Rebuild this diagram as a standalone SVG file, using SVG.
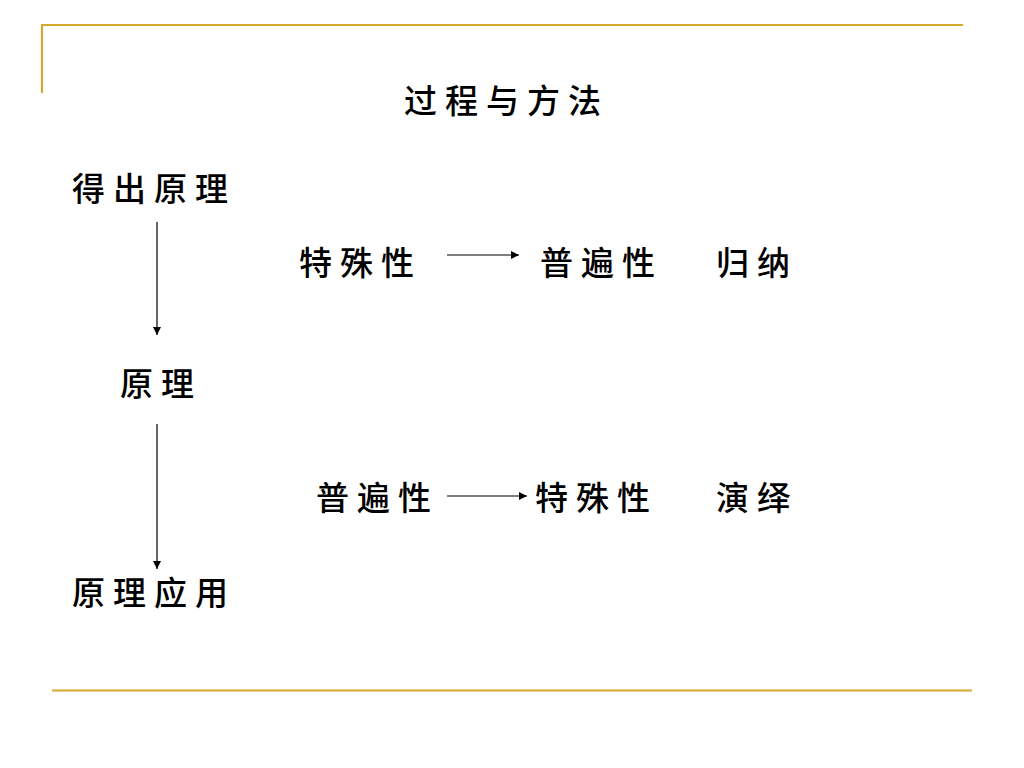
<svg xmlns="http://www.w3.org/2000/svg" width="1024" height="768" viewBox="0 0 1024 768">
<style>
.rule{stroke:#D4A82C;stroke-width:2.2;fill:none}
.t{font-family:"Noto Sans CJK SC","Noto Sans CJK JP",sans-serif;font-size:33px;font-weight:500;fill:#000;letter-spacing:8px}
.c{stroke:#000;stroke-width:1.2;fill:none;marker-end:url(#ah)}
</style>
<defs>
<marker id="ah" viewBox="0 0 10 10" refX="10" refY="5" markerWidth="8" markerHeight="8" markerUnits="userSpaceOnUse" orient="auto">
<path d="M0,0 L10,5 L0,10 z" fill="#000"/>
</marker>
</defs>
<rect width="1024" height="768" fill="#fff"/>
<g id="frame">
<polyline class="rule" points="42,93 42,25 963,25"/>
<line class="rule" x1="52" y1="690.5" x2="972" y2="690.5"/>
</g>
<g id="title"><text class="t" x="404" y="113">过程与方法</text></g>
<g id="n-dechu"><text class="t" x="72" y="201">得出原理</text></g>
<g id="n-yuanli"><text class="t" x="120" y="396">原理</text></g>
<g id="n-yingyong"><text class="t" x="72" y="605">原理应用</text></g>
<g id="n-tesu1"><text class="t" x="299" y="275">特殊性</text></g>
<g id="n-pubian1"><text class="t" x="540" y="275">普遍性</text></g>
<g id="n-guina"><text class="t" x="716" y="275">归纳</text></g>
<g id="n-pubian2"><text class="t" x="316" y="510">普遍性</text></g>
<g id="n-tesu2"><text class="t" x="535" y="510">特殊性</text></g>
<g id="n-yanyi"><text class="t" x="716" y="510">演绎</text></g>
<g id="connectors">
<line class="c" x1="157" y1="222" x2="157" y2="335"/>
<line class="c" x1="157" y1="424" x2="157" y2="569"/>
<line class="c" x1="447" y1="255" x2="519" y2="255"/>
<line class="c" x1="447" y1="496" x2="527" y2="496"/>
</g>
</svg>
